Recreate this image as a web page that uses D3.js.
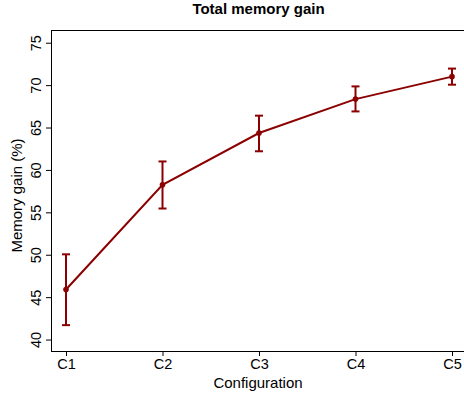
<!DOCTYPE html>
<html>
<head>
<meta charset="utf-8">
<script src="https://cdn.jsdelivr.net/npm/d3@7"></script>
<style>
  body { margin: 0; background: #fff; }
  svg text { font-family: "Liberation Sans", Arial, sans-serif; fill: #000; }
</style>
</head>
<body>
<div id="chart"></div>
<script>
// data
var configs = ["C1", "C2", "C3", "C4", "C5"];
var gainMean = [45.9, 58.25, 64.35, 68.35, 71.0];
var gainLow = [41.7, 55.45, 62.2, 66.9, 70.05];
var gainHigh = [50.05, 61.0, 66.4, 69.85, 71.95];
var yTicks = [40, 45, 50, 55, 60, 65, 70, 75];

var W = 464, H = 400;
var margin = {top: 30, right: 0, bottom: 49, left: 51};
var width = W - margin.left - margin.right,
    height = H - margin.top - margin.bottom;
var red = "#8b0000";

var svg = d3.select("#chart").append("svg")
    .attr("width", W)
    .attr("height", H);

var g = svg.append("g")
    .attr("transform", "translate(" + margin.left + "," + margin.top + ")");

var x = d3.scalePoint()
    .domain(configs)
    .range([15, 401]);
var y = d3.scaleLinear()
    .domain([38.65, 76.5])
    .range([height, 0]);

var pts = configs.map(function(c, i) {
  return {c: c, m: gainMean[i], lo: gainLow[i], hi: gainHigh[i]};
});

// top border
g.append("line")
    .attr("x1", 0).attr("x2", width)
    .attr("y1", 0.5).attr("y2", 0.5)
    .attr("stroke", "#000").attr("stroke-width", 1);

// y axis
var yAxis = g.append("g")
    .call(d3.axisLeft(y).tickValues(yTicks).tickSize(5).tickPadding(4));
yAxis.select(".domain").remove();
yAxis.selectAll(".tick line").attr("stroke", "#000");
yAxis.selectAll(".tick text")
    .attr("transform", "rotate(-90)")
    .attr("x", 0).attr("y", -10)
    .attr("dy", "0")
    .style("text-anchor", "middle")
    .style("font-size", "14.5px");
g.append("line")
    .attr("x1", 0.5).attr("x2", 0.5)
    .attr("y1", 0).attr("y2", height)
    .attr("stroke", "#000");

// x axis
var xAxis = g.append("g")
    .attr("transform", "translate(0," + height + ")")
    .call(d3.axisBottom(x).tickSize(5).tickPadding(3));
xAxis.select(".domain").remove();
xAxis.selectAll(".tick line").attr("stroke", "#000");
xAxis.selectAll(".tick text").style("font-size", "14.5px");
g.append("line")
    .attr("x1", 0).attr("x2", width)
    .attr("y1", height + 0.5).attr("y2", height + 0.5)
    .attr("stroke", "#000");

// axis titles
svg.append("text")
    .attr("x", margin.left + x("C3") - 1)
    .attr("y", 388)
    .attr("text-anchor", "middle")
    .style("font-size", "15px")
    .text("Configuration");

svg.append("text")
    .attr("transform", "rotate(-90)")
    .attr("x", -(margin.top + height / 2 + 5))
    .attr("y", 22)
    .attr("text-anchor", "middle")
    .style("font-size", "15px")
    .text("Memory gain (%)");

svg.append("text")
    .attr("x", margin.left + width / 2 + 1)
    .attr("y", 14)
    .attr("text-anchor", "middle")
    .style("font-size", "15px")
    .style("font-weight", "bold")
    .text("Total memory gain");

// line
g.append("path")
    .datum(pts)
    .attr("fill", "none")
    .attr("stroke", red)
    .attr("stroke-width", 2)
    .attr("d", d3.line()
      .x(function(d) { return x(d.c); })
      .y(function(d) { return y(d.m); }));

// error bars
var eb = g.selectAll(".err").data(pts).enter().append("g").attr("class", "err");
eb.append("line")
    .attr("x1", function(d) { return x(d.c); })
    .attr("x2", function(d) { return x(d.c); })
    .attr("y1", function(d) { return y(d.lo); })
    .attr("y2", function(d) { return y(d.hi); })
    .attr("stroke", red).attr("stroke-width", 2);
eb.append("line")
    .attr("x1", function(d) { return x(d.c) - 4; })
    .attr("x2", function(d) { return x(d.c) + 4; })
    .attr("y1", function(d) { return y(d.lo); })
    .attr("y2", function(d) { return y(d.lo); })
    .attr("stroke", red).attr("stroke-width", 2);
eb.append("line")
    .attr("x1", function(d) { return x(d.c) - 4; })
    .attr("x2", function(d) { return x(d.c) + 4; })
    .attr("y1", function(d) { return y(d.hi); })
    .attr("y2", function(d) { return y(d.hi); })
    .attr("stroke", red).attr("stroke-width", 2);

// markers
g.selectAll(".pt").data(pts).enter().append("circle")
    .attr("class", "pt")
    .attr("cx", function(d) { return x(d.c); })
    .attr("cy", function(d) { return y(d.m); })
    .attr("r", 2.8)
    .attr("fill", red);
</script>
</body>
</html>
